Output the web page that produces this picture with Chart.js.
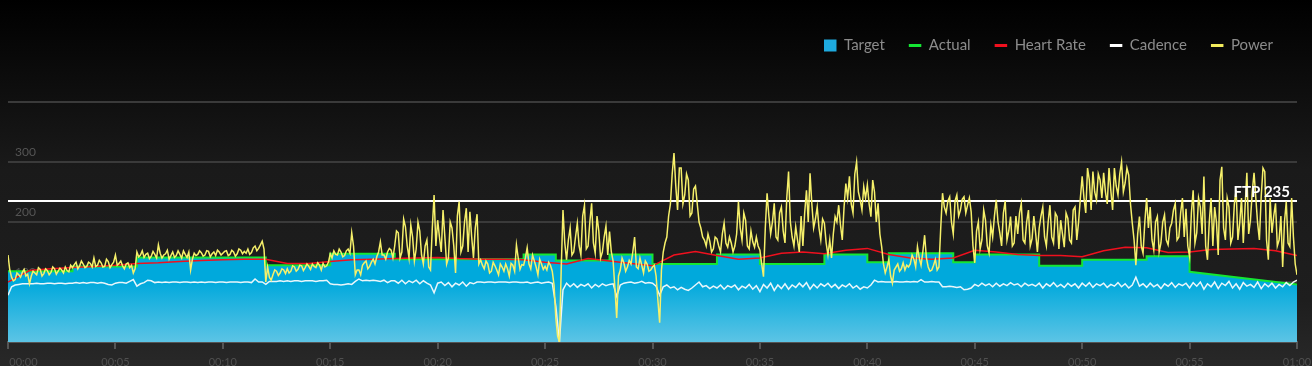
<!DOCTYPE html>
<html>
<head>
<meta charset="utf-8">
<script src="https://cdn.jsdelivr.net/npm/chart.js@4.4.0/dist/chart.umd.min.js"></script>
<style>
  html, body { margin: 0; padding: 0; }
  body {
    width: 1312px; height: 366px; overflow: hidden;
    background: linear-gradient(#000 0px, #111 110px, #1a1a1a 170px, #1e1e1e 300px, #252525 345px, #282828 366px);
  }
  canvas { display: block; }
</style>
</head>
<body>
<canvas id="workout-chart" width="1312" height="366"></canvas>
<script>
// minutes between power / cadence samples
const sampleStep = 1 / 6;
const ftpWatts = 235;

const xTickLabels = ['00:00', '00:05', '00:10', '00:15', '00:20', '00:25', '00:30',
  '00:35', '00:40', '00:45', '00:50', '00:55', '01:00'];

// target workout (minutes, watts)
const targetTimes = [0, 3, 3, 6, 6, 12, 12, 15, 15, 18, 18, 24, 24, 25.5, 25.5, 28, 28, 30, 30, 33,
  33, 35, 35, 38, 38, 40, 40, 41, 41, 44, 44, 45, 45, 48, 48, 50, 50, 53, 53, 55, 55, 60];
const targetWatts = [118, 118, 126, 126, 141, 141, 128, 128, 147, 147, 138, 138, 146, 146, 136, 136, 146, 146, 130, 130,
  146, 146, 130, 130, 146, 146, 133, 133, 148, 148, 133, 133, 146, 146, 127, 127, 137, 137, 143, 143, 117, 96];

// heart rate, one value a minute
const heartRate = [100, 119, 122, 124, 126, 128, 131, 132, 134, 136, 137, 138, 138, 131, 131, 134, 137, 138, 139, 140,
  141, 139, 138, 138, 137, 133, 130, 139, 135, 131, 127, 145, 151, 144, 138, 140, 148, 150, 147, 153,
  156, 146, 140, 138, 140, 153, 150, 146, 144, 144, 142, 152, 158, 157, 149, 150, 154, 155, 156, 152, 144];

// cadence, every 10 s
const cadence = [
  78, 92, 95, 96, 97, 97, 97, 97, 98, 97, 97, 98, 98, 97, 98, 98, 97, 98,
  98, 99, 98, 99, 98, 99, 99, 98, 99, 98, 96, 95, 98, 99, 99, 98, 101, 104,
  93, 97, 99, 103, 102, 99, 100, 99, 100, 99, 100, 100, 99, 100, 100, 99, 100, 99,
  100, 99, 100, 100, 99, 100, 100, 99, 100, 100, 100, 99, 100, 100, 99, 105, 100, 100,
  96, 101, 101, 101, 102, 101, 102, 101, 102, 102, 101, 102, 102, 102, 101, 102, 102, 103,
  97, 96, 96, 95, 96, 97, 96, 101, 105, 102, 103, 102, 103, 102, 101, 103, 99, 102,
  102, 98, 103, 97, 102, 99, 103, 97, 102, 98, 95, 82, 98, 100, 94, 99, 92, 98,
  95, 100, 93, 99, 97, 100, 100, 99, 100, 100, 99, 100, 100, 100, 99, 100, 100, 99,
  99, 100, 98, 99, 100, 98, 99, 100, 98, 60, 0, 87, 98, 92, 97, 91, 96, 93,
  97, 90, 96, 92, 97, 94, 96, 97, 76, 95, 98, 99, 100, 98, 99, 101, 98, 99,
  98, 93, 78, 92, 95, 90, 92, 87, 91, 88, 86, 90, 95, 100, 92, 94, 89, 93,
  90, 95, 88, 94, 91, 95, 87, 93, 90, 96, 88, 94, 84, 96, 90, 98, 86, 95,
  89, 97, 88, 95, 91, 98, 92, 99, 88, 96, 90, 97, 93, 98, 91, 96, 89, 95,
  92, 97, 90, 94, 88, 92, 90, 95, 103, 100, 101, 100, 100, 100, 101, 100, 100, 101,
  100, 101, 100, 104, 100, 100, 101, 100, 100, 92, 92, 93, 92, 91, 92, 87, 88, 90,
  96, 93, 98, 94, 97, 92, 98, 93, 97, 94, 99, 95, 97, 92, 98, 94, 96, 93,
  98, 90, 97, 93, 99, 92, 96, 91, 98, 93, 97, 90, 98, 93, 99, 91, 97, 94,
  98, 91, 96, 93, 99, 92, 97, 90, 95, 108, 93, 97, 91, 98, 92, 96, 89, 97,
  93, 99, 91, 97, 94, 98, 90, 99, 93, 100, 88, 97, 92, 100, 89, 98, 94, 101,
  90, 97, 88, 99, 93, 96, 91, 100, 89, 97, 92, 98, 90, 96, 92, 99, 94, 100,
  103];

// power, every 10 s (on the 10 s marks)
const power = [
  145, 108, 104, 112, 116, 110, 97, 118, 112, 121, 114, 119, 116, 122, 118, 120, 125, 117,
  124, 133, 127, 130, 126, 131, 140, 128, 132, 126, 134, 129, 145, 131, 127, 130, 124, 115,
  150, 145, 141, 148, 143, 146, 162, 140, 147, 138, 150, 144, 146, 152, 141, 120, 148, 146,
  149, 145, 151, 147, 144, 150, 148, 152, 146, 150, 147, 153, 151, 155, 149, 160, 156, 168,
  100, 108, 112, 118, 115, 120, 122, 118, 125, 121, 127, 124, 126, 130, 124, 128, 131, 127,
  147, 152, 145, 150, 144, 155, 182, 112, 120, 128, 135, 126, 138, 142, 167, 145, 150, 153,
  160, 182, 150, 192, 140, 175, 155, 185, 130, 170, 120, 245, 203, 150, 176, 140, 190, 115,
  234, 160, 223, 217, 140, 213, 137, 122, 130, 118, 127, 112, 125, 130, 110, 128, 162, 121,
  128, 157, 122, 135, 112, 130, 126, 133, 118, 40, 0, 220, 137, 190, 150, 198, 145, 228,
  160, 231, 148, 185, 150, 193, 184, 135, 40, 120, 132, 125, 130, 175, 122, 128, 135, 118,
  125, 110, 32, 150, 175, 230, 315, 220, 290, 245, 270, 215, 260, 200, 175, 160, 168, 155,
  172, 150, 198, 158, 165, 160, 234, 170, 203, 155, 167, 175, 153, 109, 248, 180, 231, 170,
  225, 165, 284, 175, 192, 150, 160, 253, 281, 190, 225, 170, 198, 145, 140, 209, 228, 170,
  264, 276, 215, 300, 237, 259, 262, 209, 250, 231, 159, 115, 137, 98, 125, 118, 132, 128,
  130, 138, 159, 128, 178, 125, 120, 138, 125, 248, 215, 242, 180, 245, 220, 242, 228, 217,
  132, 200, 170, 203, 148, 175, 237, 182, 215, 170, 209, 165, 180, 231, 165, 220, 172, 182,
  190, 225, 160, 228, 165, 209, 203, 158, 206, 165, 225, 200, 276, 215, 270, 284, 237, 270,
  282, 230, 253, 290, 245, 300, 265, 278, 198, 128, 209, 148, 240, 225, 153, 209, 165, 212,
  162, 198, 231, 175, 240, 222, 142, 253, 182, 225, 276, 137, 240, 225, 145, 292, 170, 225,
  175, 253, 198, 165, 282, 203, 282, 198, 242, 284, 137, 182, 231, 170, 125, 234, 159, 175,
  112];

// power readings 5 s after each mark above
const powerMid = [
  120, 102, 115, 108, 121, 113, 110, 115, 124, 110, 122, 112, 125, 113, 123, 115, 119, 128,
  129, 122, 135, 124, 133, 125, 126, 136, 125, 138, 124, 133, 128, 135, 122, 132, 128, 122,
  142, 152, 146, 139, 151, 140, 148, 145, 153, 144, 141, 152, 140, 146, 150, 138, 144, 152,
  143, 152, 142, 150, 153, 145, 151, 144, 153, 143, 155, 147, 148, 146, 157, 152, 162, 155,
  125, 103, 120, 111, 122, 114, 115, 127, 118, 128, 119, 130, 121, 126, 132, 120, 125, 133,
  140, 146, 155, 142, 152, 148, 160, 120, 112, 132, 122, 133, 130, 150, 145, 138, 156, 140,
  185, 140, 205, 160, 195, 135, 200, 145, 160, 125, 190, 160, 175, 220, 130, 200, 160, 210,
  150, 200, 150, 175, 190, 130, 128, 135, 115, 133, 120, 130, 118, 122, 131, 118, 140, 129,
  140, 130, 145, 125, 138, 121, 120, 128, 95, 10, 120, 165, 170, 145, 175, 160, 210, 155,
  200, 165, 210, 140, 175, 145, 150, 90, 110, 140, 118, 136, 150, 125, 140, 115, 130, 120,
  128, 70, 120, 165, 210, 280, 260, 290, 230, 280, 210, 255, 230, 190, 170, 180, 150, 175,
  160, 180, 165, 175, 150, 180, 190, 215, 160, 185, 158, 160, 130, 190, 210, 200, 175, 215,
  185, 240, 200, 160, 170, 210, 215, 200, 230, 205, 190, 205, 165, 170, 180, 200, 195, 225,
  240, 230, 280, 250, 220, 240, 230, 270, 200, 180, 130, 125, 110, 120, 130, 122, 120, 125,
  145, 125, 140, 150, 140, 118, 128, 120, 190, 225, 235, 200, 235, 210, 238, 215, 240, 160,
  185, 155, 220, 160, 195, 210, 200, 160, 235, 185, 160, 210, 215, 170, 200, 160, 210, 150,
  210, 175, 200, 175, 215, 155, 180, 215, 170, 220, 170, 240, 240, 290, 220, 250, 280, 240,
  250, 290, 220, 260, 280, 250, 290, 230, 170, 180, 160, 200, 190, 170, 200, 150, 200, 170,
  190, 220, 170, 215, 175, 160, 215, 165, 240, 180, 160, 200, 160, 200, 270, 190, 240, 165,
  230, 170, 240, 225, 180, 250, 240, 170, 290, 170, 240, 210, 160, 210, 200, 165, 240, 130];

const targetPoints = targetTimes.map((t, i) => ({ x: t, y: targetWatts[i] }));
const hrPoints = heartRate.map((b, i) => ({ x: i, y: b }));
const cadencePoints = cadence.map((c, i) => ({ x: i * sampleStep, y: c }));
const powerPoints = [];
power.forEach((w, i) => {
  powerPoints.push({ x: i * sampleStep, y: w });
  if (i < powerMid.length) powerPoints.push({ x: (i + 0.5) * sampleStep, y: powerMid[i] });
});

function targetFill(context) {
  const { chart } = context;
  const { ctx, chartArea, scales } = chart;
  if (!chartArea) return '#00a9dc';
  const g = ctx.createLinearGradient(0, scales.y.getPixelForValue(100), 0, chartArea.bottom);
  g.addColorStop(0, '#00a9dc');
  g.addColorStop(1, '#5cc4e5');
  return g;
}

const legendMarkers = [
  { style: 'rect', color: '#1eaadf', width: 0 },
  { style: 'line', color: '#14e633', width: 3 },
  { style: 'line', color: '#f0101e', width: 3 },
  { style: 'line', color: '#ffffff', width: 3 },
  { style: 'line', color: '#f2ec5c', width: 3 },
];

// legend sits near the top, well above the plot
const legendTop = {
  id: 'legendTop',
  afterLayout(chart) {
    const l = chart.legend;
    if (!l) return;
    const dy = l.top - 14;
    l.top -= dy;
    l.bottom -= dy;
  },
};

const ftpLabel = {
  id: 'ftpLabel',
  afterDatasetsDraw(chart) {
    const { ctx, chartArea, scales } = chart;
    const py = scales.y.getPixelForValue(ftpWatts);
    ctx.save();
    ctx.font = 'bold 15px Lato';
    ctx.fillStyle = '#ffffff';
    ctx.textAlign = 'right';
    ctx.textBaseline = 'alphabetic';
    ctx.fillText('FTP ' + ftpWatts, chartArea.right - 7, py - 4);
    ctx.restore();
  },
};

const chart = new Chart(document.getElementById('workout-chart').getContext('2d'), {
  type: 'line',
  data: {
    datasets: [
      {
        label: 'Target', data: targetPoints, order: 6,
        fill: 'origin', backgroundColor: targetFill, borderColor: 'rgba(0,0,0,0)', borderWidth: 0,
        pointRadius: 0,
      },
      {
        label: 'Actual', data: targetPoints, order: 5,
        borderColor: '#14e633', borderWidth: 2, pointRadius: 0, fill: false,
      },
      {
        label: 'Heart Rate', data: hrPoints, order: 4,
        borderColor: '#f0101e', borderWidth: 1.5, pointRadius: 0, fill: false,
      },
      {
        label: 'Cadence', data: cadencePoints, order: 3,
        borderColor: 'rgba(245,250,252,0.95)', borderWidth: 1.5, pointRadius: 0, fill: false,
      },
      {
        label: 'Power', data: powerPoints, order: 1,
        borderColor: '#f6f06a', borderWidth: 1.5, pointRadius: 0, fill: false,
      },
      {
        label: 'FTP', data: [{ x: 0, y: ftpWatts }, { x: 60, y: ftpWatts }], order: 2,
        borderColor: '#ffffff', borderWidth: 2, pointRadius: 0, fill: false,
      },
    ],
  },
  options: {
    responsive: false,
    animation: false,
    layout: { padding: { left: 8, right: 15, top: 12, bottom: 0 } },
    plugins: {
      tooltip: { enabled: false },
      legend: {
        position: 'top',
        align: 'end',
        labels: {
          color: '#8c8c8c',
          font: { family: 'Lato', size: 15 },
          usePointStyle: true,
          pointStyleWidth: 12.5,
          boxHeight: 12,
          padding: 24,
          filter: (item) => item.datasetIndex < 5,
          sort: (a, b) => a.datasetIndex - b.datasetIndex,
          generateLabels: (c) => {
            const items = Chart.defaults.plugins.legend.labels.generateLabels(c);
            items.forEach((item) => {
              const m = legendMarkers[item.datasetIndex];
              if (!m) return;
              item.pointStyle = m.style;
              item.fillStyle = m.color;
              item.strokeStyle = m.color;
              item.lineWidth = m.width;
            });
            return items;
          },
        },
      },
    },
    scales: {
      x: {
        type: 'linear',
        min: 0,
        max: 60,
        afterFit: (s) => { s.paddingLeft = 0; s.paddingRight = 0; s.height = 24; },
        ticks: {
          stepSize: 5,
          maxRotation: 0,
          autoSkip: false,
          padding: 7,
          color: '#505050',
          font: { family: 'Lato', size: 11 },
          // first label sits to the right of its tick
          callback: (v, i) => (i === 0 ? '           ' + xTickLabels[i] : xTickLabels[i]),
        },
        grid: { drawOnChartArea: false, color: '#555', lineWidth: 2, tickLength: 7 },
        border: { color: '#555', width: 2 },
      },
      y: {
        min: 0,
        max: 400,
        afterFit: (s) => { s.width = 0; s.paddingTop = 102; s.paddingBottom = 0; },
        ticks: {
          stepSize: 100,
          mirror: true,
          padding: 7,
          labelOffset: -10,
          color: '#555',
          font: { family: 'Lato', size: 12 },
          callback: (v) => (v > 0 && v < 400 ? String(v) : ''),
        },
        grid: { color: '#3a3a3a', lineWidth: 2, drawTicks: false },
        border: { display: false },
      },
    },
  },
  plugins: [legendTop, ftpLabel],
});
</script>
</body>
</html>
